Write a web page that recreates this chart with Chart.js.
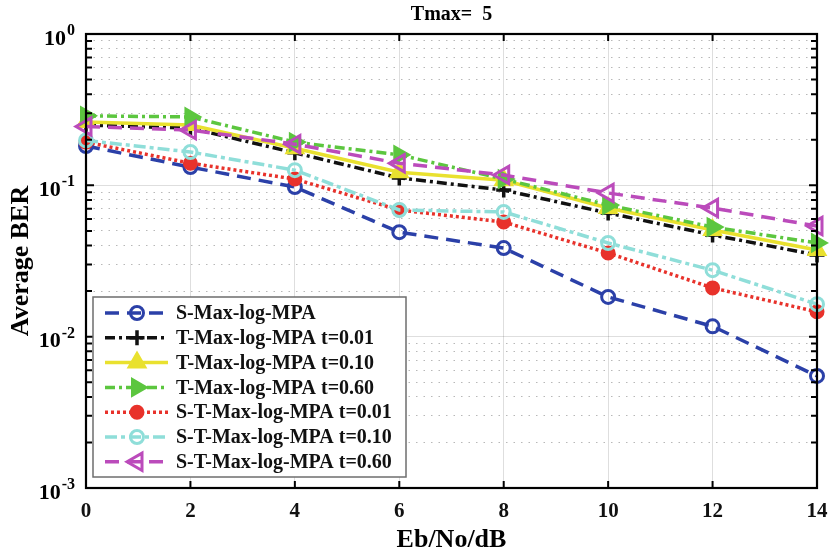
<!DOCTYPE html>
<html>
<head>
<meta charset="utf-8">
<script src="https://cdn.jsdelivr.net/npm/chart.js@4.4.1/dist/chart.umd.min.js"></script>
<style>
  html, body { margin: 0; padding: 0; background: #ffffff; }
  #wrap { width: 830px; height: 554px; position: relative; }
</style>
</head>
<body>
<div id="wrap"><canvas id="c" width="830" height="554"></canvas></div>
<script>
// ---- data ----
const snrDb = [0, 2, 4, 6, 8, 10, 12, 14];
const sMaxLog      = [0.182, 0.132, 0.0975, 0.049, 0.0385, 0.0183, 0.0117, 0.0055];
const tMaxLog001   = [0.250, 0.239, 0.164, 0.112, 0.093, 0.0656, 0.047, 0.0346];
const tMaxLog010   = [0.262, 0.250, 0.176, 0.122, 0.108, 0.0708, 0.0507, 0.0374];
const tMaxLog060   = [0.288, 0.283, 0.193, 0.159, 0.110, 0.074, 0.053, 0.0416];
const stMaxLog001  = [0.193, 0.140, 0.110, 0.0687, 0.0572, 0.0357, 0.0210, 0.0146];
const stMaxLog010  = [0.198, 0.166, 0.126, 0.0687, 0.0667, 0.0416, 0.0275, 0.0164];
const stMaxLog060  = [0.245, 0.232, 0.187, 0.140, 0.117, 0.089, 0.0708, 0.0538];
const seriesNames = [
  'S-Max-log-MPA',
  'T-Max-log-MPA t=0.01',
  'T-Max-log-MPA t=0.10',
  'T-Max-log-MPA t=0.60',
  'S-T-Max-log-MPA t=0.01',
  'S-T-Max-log-MPA t=0.10',
  'S-T-Max-log-MPA t=0.60'
];
const xTickValues = [0, 2, 4, 6, 8, 10, 12, 14];
const yDecades = [-3, -2, -1, 0];
const chartTitle = 'Tmax=  5';
const xTitle = 'Eb/No/dB';
const yTitle = 'Average BER';

const FONT = "'Liberation Serif', 'Times New Roman', serif";

const styles = [
  {color: '#2b40a8', dash: [14, 8], style: 'circle', fill: 'rgba(0,0,0,0)', radius: 6.5, bw: 3, rot: 0},
  {color: '#111111', dash: [10, 4, 3, 4], style: 'cross', fill: '#111111', radius: 7.5, bw: 3.5, rot: 0},
  {color: '#e9e12f', dash: [], style: 'triangle', fill: '#e9e12f', radius: 10, bw: 2, rot: 0},
  {color: '#5cc63f', dash: [10, 4, 3, 4], style: 'triangle', fill: '#5cc63f', radius: 10, bw: 2, rot: 90},
  {color: '#e8322b', dash: [3, 3], style: 'circle', fill: '#e8322b', radius: 6.5, bw: 2, rot: 0},
  {color: '#8fded9', dash: [12, 4, 4, 4], style: 'circle', fill: 'rgba(0,0,0,0)', radius: 6.5, bw: 3, rot: 0},
  {color: '#bb4bbb', dash: [14, 8], style: 'triangle', fill: 'rgba(0,0,0,0)', radius: 10, bw: 3, rot: -90}
];
const seriesData = [sMaxLog, tMaxLog001, tMaxLog010, tMaxLog060, stMaxLog001, stMaxLog010, stMaxLog060];

const datasets = seriesData.map((vals, i) => ({
  label: seriesNames[i],
  data: snrDb.map((x, j) => ({x: x, y: vals[j]})),
  borderColor: styles[i].color,
  backgroundColor: styles[i].fill,
  borderWidth: 3.5,
  borderDash: styles[i].dash,
  borderCapStyle: 'butt',
  tension: 0,
  pointStyle: styles[i].style,
  pointRadius: styles[i].radius,
  pointBorderWidth: styles[i].bw,
  pointBorderColor: styles[i].color,
  pointBackgroundColor: styles[i].fill,
  pointRotation: styles[i].rot,
  clip: false,
  order: seriesData.length - i
}));

function isMajor(v) {
  const l = Math.log10(v);
  return Math.abs(l - Math.round(l)) < 1e-9;
}

const decorPlugin = {
  id: 'decor',
  afterDraw(chart) {
    const ctx = chart.ctx;
    const a = chart.chartArea;
    const xs = chart.scales.x, ys = chart.scales.y;
    ctx.save();
    // frame
    ctx.setLineDash([]);
    ctx.strokeStyle = '#000';
    ctx.lineWidth = 2.2;
    ctx.strokeRect(a.left, a.top, a.right - a.left, a.bottom - a.top);
    // x ticks (inward, bottom and top)
    ctx.lineWidth = 2;
    xTickValues.forEach(v => {
      const px = xs.getPixelForValue(v);
      ctx.beginPath();
      ctx.moveTo(px, a.bottom); ctx.lineTo(px, a.bottom - 7);
      ctx.moveTo(px, a.top); ctx.lineTo(px, a.top + 7);
      ctx.stroke();
    });
    // y ticks (major and minor, left and right)
    ys.ticks.forEach(t => {
      const py = ys.getPixelForValue(t.value);
      const len = isMajor(t.value) ? 8 : 6;
      ctx.beginPath();
      ctx.moveTo(a.left, py); ctx.lineTo(a.left + len, py);
      ctx.moveTo(a.right, py); ctx.lineTo(a.right - len, py);
      ctx.stroke();
    });
    // y tick labels 10^k
    ctx.fillStyle = '#000';
    yDecades.forEach(k => {
      const py = ys.getPixelForValue(Math.pow(10, k));
      const exp = String(k);
      ctx.font = 'bold 16px ' + FONT;
      const ew = ctx.measureText(exp).width;
      const right = 75;
      ctx.textAlign = 'left';
      ctx.textBaseline = 'middle';
      ctx.fillText(exp, right - ew, py - 3);
      ctx.font = 'bold 22px ' + FONT;
      ctx.textAlign = 'right';
      ctx.fillText('10', right - ew - 1, py + 5);
    });
    // title
    ctx.font = 'bold 20px ' + FONT;
    ctx.textAlign = 'center';
    ctx.textBaseline = 'middle';
    ctx.fillText(chartTitle, (a.left + a.right) / 2, 15);
    // axis titles
    ctx.font = 'bold 26px ' + FONT;
    ctx.fillText(xTitle, (a.left + a.right) / 2, 540);
    ctx.save();
    ctx.translate(21, (a.top + a.bottom) / 2);
    ctx.rotate(-Math.PI / 2);
    ctx.fillText(yTitle, 0, 0);
    ctx.restore();
    // legend
    const bx = 93, by = 297, bw = 313, bh = 180;
    ctx.fillStyle = '#fff';
    ctx.fillRect(bx, by, bw, bh);
    ctx.strokeStyle = '#6e6e6e';
    ctx.lineWidth = 1.5;
    ctx.strokeRect(bx, by, bw, bh);
    chart.data.datasets.forEach((ds, i) => {
      const y = 313 + i * 24.8;
      ctx.setLineDash(ds.borderDash);
      ctx.strokeStyle = ds.borderColor;
      ctx.lineWidth = ds.borderWidth;
      ctx.lineCap = 'butt';
      ctx.beginPath();
      ctx.moveTo(105, y); ctx.lineTo(168, y);
      ctx.stroke();
      ctx.setLineDash([]);
      ctx.fillStyle = ds.pointBackgroundColor;
      ctx.strokeStyle = ds.pointBorderColor;
      ctx.lineWidth = ds.pointBorderWidth;
      Chart.helpers.drawPoint(ctx, {
        pointStyle: ds.pointStyle,
        rotation: ds.pointRotation,
        radius: ds.pointRadius,
        borderWidth: ds.pointBorderWidth
      }, 137, y);
      ctx.fillStyle = '#111';
      ctx.font = 'bold 20px ' + FONT;
      ctx.textAlign = 'left';
      ctx.textBaseline = 'middle';
      ctx.fillText(ds.label, 176, y + 1);
    });
    ctx.restore();
  }
};

new Chart(document.getElementById('c'), {
  type: 'line',
  data: {datasets: datasets},
  options: {
    responsive: false,
    animation: false,
    events: [],
    layout: {padding: {top: 34, right: 12, left: 0, bottom: 0}},
    plugins: {legend: {display: false}, title: {display: false}, tooltip: {enabled: false}},
    scales: {
      x: {
        type: 'linear',
        min: 0, max: 14,
        afterBuildTicks: s => { s.ticks = xTickValues.map(v => ({value: v})); },
        afterFit: s => { s.height = 66; s.paddingLeft = 0; s.paddingRight = 0; },
        ticks: {
          color: '#111',
          font: {family: FONT, size: 21, weight: 'bold'},
          padding: 11,
          maxRotation: 0,
          callback: v => String(v)
        },
        grid: {
          color: ctx => (ctx.tick && ctx.tick.value > 0 && ctx.tick.value < 14) ? 'rgba(0,0,0,0.13)' : 'rgba(0,0,0,0)',
          lineWidth: 1,
          drawTicks: false
        },
        border: {display: false}
      },
      y: {
        type: 'logarithmic',
        min: 0.001, max: 1,
        afterBuildTicks: s => {
          const t = [];
          for (let k = -3; k < 0; k++) {
            for (let n = 1; n <= 9; n++) t.push({value: n * Math.pow(10, k)});
          }
          t.push({value: 1});
          s.ticks = t;
        },
        afterFit: s => { s.width = 86; s.paddingTop = 0; s.paddingBottom = 0; },
        ticks: {display: false},
        grid: {
          color: ctx => {
            if (!ctx.tick) return 'rgba(0,0,0,0)';
            const v = ctx.tick.value;
            if (v <= 0.001 + 1e-12 || v >= 1 - 1e-12) return 'rgba(0,0,0,0)';
            return isMajor(v) ? 'rgba(0,0,0,0.13)' : 'rgba(0,0,0,0.28)';
          },
          lineWidth: 1,
          drawTicks: false
        },
        border: {
          display: false,
          dash: ctx => (ctx.tick && !isMajor(ctx.tick.value)) ? [1.5, 6] : []
        }
      }
    }
  },
  plugins: [decorPlugin]
});
</script>
</body>
</html>
